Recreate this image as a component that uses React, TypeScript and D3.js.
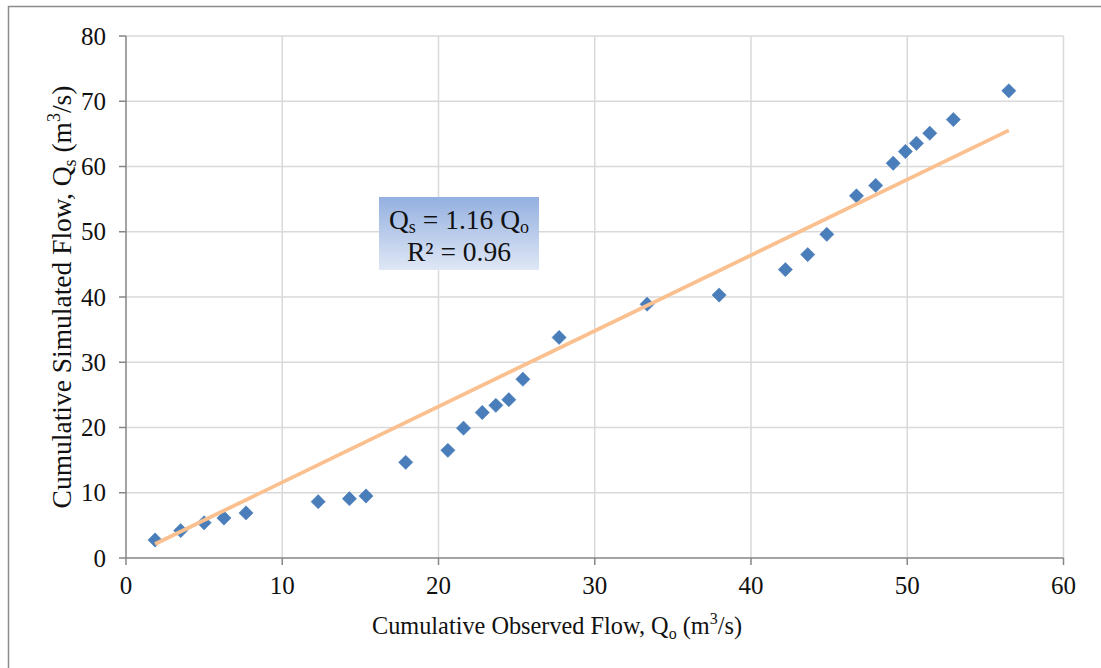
import React from "react";
import * as d3 from "d3";

const observed = [1.86, 3.5, 5.0, 6.27, 7.68, 12.3, 14.3, 15.36, 17.9, 20.6, 21.6, 22.8, 23.67, 24.5, 25.4, 27.72, 33.35, 37.96, 42.2, 43.63, 44.85, 46.75, 47.98, 49.1, 49.88, 50.59, 51.44, 52.95, 56.5];
const simulated = [2.76, 4.2, 5.4, 6.13, 6.9, 8.63, 9.09, 9.5, 14.66, 16.5, 19.9, 22.3, 23.4, 24.26, 27.4, 33.8, 38.9, 40.3, 44.2, 46.5, 49.6, 55.5, 57.1, 60.5, 62.3, 63.55, 65.1, 67.2, 71.6];
const slope = 1.16;
const r2 = 0.96;
const xTicks = [0, 10, 20, 30, 40, 50, 60];
const yTicks = [0, 10, 20, 30, 40, 50, 60, 70, 80];

const FONT = "Liberation Serif, DejaVu Serif, Times New Roman, serif";

export default function App() {
  const W = 1101, H = 668;
  const x = d3.scaleLinear().domain([0, 60]).range([126, 1063.5]);
  const y = d3.scaleLinear().domain([0, 80]).range([558, 36]);
  const xMin = d3.min(observed) as number;
  const xMax = d3.max(observed) as number;
  const trend = d3.line<number>().x((v) => x(v)).y((v) => y(v * slope))([xMin, xMax]) || "";
  const diamond = d3.symbol().type(d3.symbolDiamond2).size(130)() || "";
  const gridColor = "#d9d9d9";
  const axisColor = "#868686";
  const ts = { fontFamily: FONT };

  return (
    <svg width={W} height={H} style={{ position: "absolute", left: 0, top: 0, background: "#fff", fontFamily: FONT }}>
      <defs>
        <linearGradient id="boxGrad" x1="0" y1="0" x2="0" y2="1">
          <stop offset="0" stopColor="#94b0e0" />
          <stop offset="1" stopColor="#dfe7f5" />
        </linearGradient>
      </defs>
      <rect x={0} y={0} width={W} height={H} fill="#fff" />
      <rect x={8.5} y={6.5} width={W + 20} height={H + 20} fill="none" stroke="#8c8c8c" strokeWidth={1.5} />
      {xTicks.slice(1).map((t) => (
        <line key={"gx" + t} x1={x(t)} x2={x(t)} y1={y(0)} y2={y(80)} stroke={gridColor} strokeWidth={1.5} />
      ))}
      {yTicks.slice(1).map((t) => (
        <line key={"gy" + t} x1={x(0)} x2={x(60)} y1={y(t)} y2={y(t)} stroke={gridColor} strokeWidth={1.5} />
      ))}
      <line x1={x(0)} x2={x(60)} y1={y(0)} y2={y(0)} stroke={axisColor} strokeWidth={1.5} />
      <line x1={x(0)} x2={x(0)} y1={y(0)} y2={y(80)} stroke={axisColor} strokeWidth={1.5} />
      {xTicks.map((t) => (
        <g key={"tx" + t}>
          <line x1={x(t)} x2={x(t)} y1={y(0)} y2={y(0) + 7} stroke={axisColor} strokeWidth={1.5} />
          <text style={ts} x={x(t)} y={594} textAnchor="middle" fontSize={25} fill="#111">{t}</text>
        </g>
      ))}
      {yTicks.map((t) => (
        <g key={"ty" + t}>
          <line x1={x(0) - 7} x2={x(0)} y1={y(t)} y2={y(t)} stroke={axisColor} strokeWidth={1.5} />
          <text style={ts} x={106} y={y(t)} dy="0.34em" textAnchor="end" fontSize={25} fill="#111">{t}</text>
        </g>
      ))}
      {observed.map((o, i) => (
        <path key={"p" + i} d={diamond} transform={`translate(${x(o)},${y(simulated[i])})`} fill="#4a7ebb" stroke="#4577b5" strokeWidth={0.5} />
      ))}
      <path d={trend} fill="none" stroke="#fac08f" strokeWidth={3.8} />
      <rect x={379} y={197} width={160} height={73} fill="url(#boxGrad)" />
      <text style={ts} x={459} y={229} textAnchor="middle" fontSize={27.5} fill="#111">
        Q<tspan fontSize={18} dy={4}>s</tspan><tspan dy={-4}> = {slope.toFixed(2)} Q</tspan><tspan fontSize={18} dy={4}>o</tspan>
      </text>
      <text style={ts} x={459} y={261} textAnchor="middle" fontSize={27.5} fill="#111">R² = {r2.toFixed(2)}</text>
      <text style={ts} x={557} y={634} textAnchor="middle" fontSize={24.3} fill="#111">
        Cumulative Observed Flow, Q<tspan fontSize={16} dy={5}>o</tspan><tspan dy={-5}> (m</tspan><tspan fontSize={16} dy={-10}>3</tspan><tspan dy={10}>/s)</tspan>
      </text>
      <text style={ts} transform="translate(71,297) rotate(-90)" textAnchor="middle" fontSize={27.5} fill="#111">
        Cumulative Simulated Flow, Q<tspan fontSize={18} dy={5}>s</tspan><tspan dy={-5}> (m</tspan><tspan fontSize={18} dy={-11}>3</tspan><tspan dy={11}>/s)</tspan>
      </text>
    </svg>
  );
}
